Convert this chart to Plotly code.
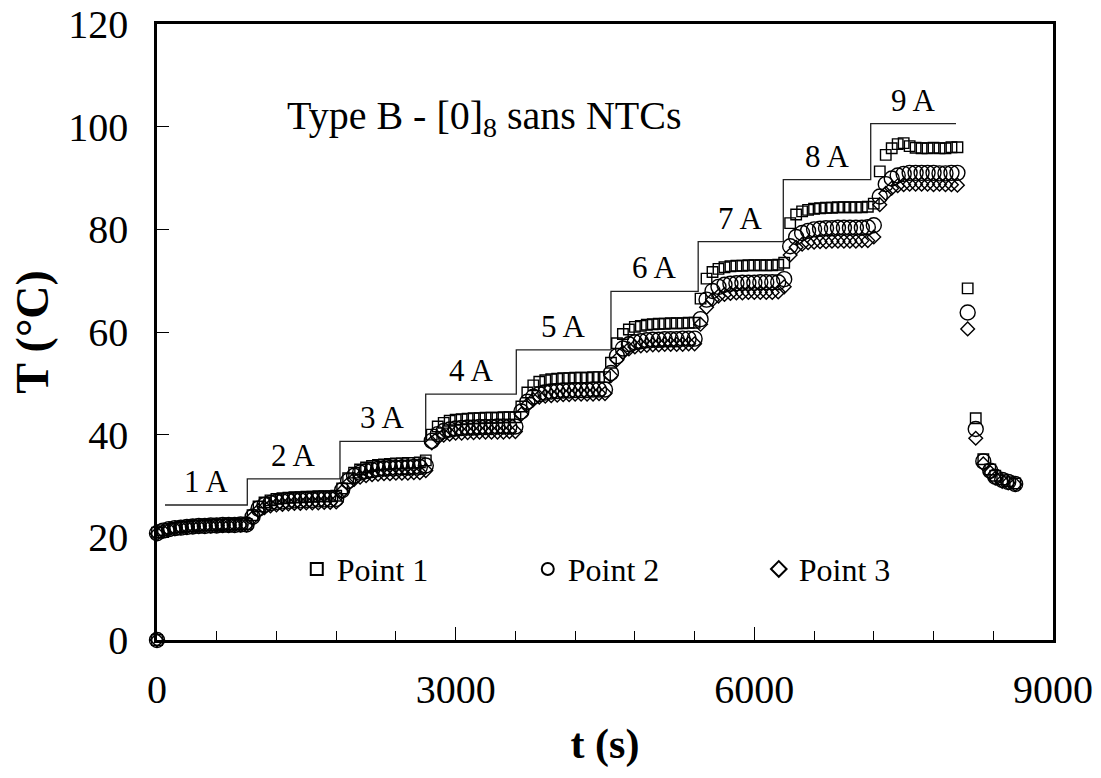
import plotly.graph_objects as go

# ---------------- data ----------------
t_s = [0, 0, 60, 120, 180, 240, 300, 360, 420, 480, 540, 600, 660, 720, 780, 840, 900,
       960, 1020, 1080, 1140, 1200, 1260, 1320, 1380, 1440, 1500, 1560, 1620, 1680, 1740, 1800,
       1860, 1920, 1980, 2040, 2100, 2160, 2220, 2280, 2340, 2400, 2460, 2520, 2580, 2640, 2700,
       2760, 2820, 2880, 2940, 3000, 3060, 3120, 3180, 3240, 3300, 3360, 3420, 3480, 3540, 3600,
       3660, 3720, 3780, 3840, 3900, 3960, 4020, 4080, 4140, 4200, 4260, 4320, 4380, 4440, 4500,
       4560, 4620, 4680, 4740, 4800, 4860, 4920, 4980, 5040, 5100, 5160, 5220, 5280, 5340, 5400,
       5460, 5520, 5580, 5640, 5700, 5760, 5820, 5880, 5940, 6000, 6060, 6120, 6180, 6240, 6300,
       6360, 6420, 6480, 6540, 6600, 6660, 6720, 6780, 6840, 6900, 6960, 7020, 7080, 7140, 7200,
       7260, 7320, 7380, 7440, 7500, 7560, 7620, 7680, 7740, 7800, 7860, 7920, 7980, 8040,
       8143, 8224, 8300, 8370, 8420, 8490, 8550, 8620]

point1 = [0, 20.9, 21.4, 21.7, 21.9, 22.0, 22.1, 22.2, 22.3, 22.3, 22.4, 22.4, 22.5, 22.5, 22.5, 22.6, 22.6,
          24.3, 26.0, 26.8, 27.2, 27.5, 27.6, 27.7, 27.8, 27.8, 27.9, 27.9, 28.0, 28.0, 28.0, 28.1,
          29.5, 31.5, 32.6, 33.2, 33.6, 33.9, 34.1, 34.2, 34.3, 34.4, 34.4, 34.5, 34.5, 34.6, 35.0,
          40.0, 41.6, 42.3, 42.7, 42.9, 43.0, 43.1, 43.2, 43.2, 43.3, 43.3, 43.3, 43.4, 43.4, 43.4,
          45.5, 48.2, 49.6, 50.3, 50.6, 50.8, 50.9, 51.0, 51.0, 51.1, 51.1, 51.1, 51.2, 51.2, 51.2,
          54.0, 57.8, 59.6, 60.5, 61.0, 61.2, 61.4, 61.5, 61.6, 61.6, 61.7, 61.7, 61.7, 61.8, 61.8,
          66.5, 70.4, 71.7, 72.3, 72.6, 72.8, 72.9, 72.9, 73.0, 73.0, 73.0, 73.0, 73.0, 73.1, 73.5,
          81.2, 82.9, 83.5, 83.8, 84.0, 84.1, 84.2, 84.2, 84.3, 84.3, 84.3, 84.3, 84.3, 84.4, 85.0,
          91.3, 94.5, 95.8, 96.6, 96.8, 96.2, 95.9, 95.8, 95.8, 95.9, 95.8, 95.8, 96.0, 96.0,
          68.5, 43.2, 35.2, 33.2, 32.0, 31.3, 30.9, 30.5]

point2 = [0, 20.8, 21.3, 21.6, 21.8, 21.9, 22.0, 22.1, 22.2, 22.2, 22.3, 22.3, 22.4, 22.4, 22.4, 22.5, 22.5,
          24.0, 25.6, 26.3, 26.7, 26.9, 27.0, 27.1, 27.2, 27.2, 27.3, 27.3, 27.4, 27.4, 27.4, 27.5,
          29.2, 31.0, 32.0, 32.6, 32.9, 33.1, 33.3, 33.4, 33.5, 33.5, 33.6, 33.6, 33.7, 33.7, 34.0,
          38.8, 40.1, 40.7, 41.0, 41.2, 41.3, 41.4, 41.4, 41.5, 41.5, 41.5, 41.6, 41.6, 41.6, 41.6,
          44.5, 46.4, 47.4, 47.9, 48.2, 48.4, 48.5, 48.6, 48.6, 48.7, 48.7, 48.7, 48.8, 48.8, 48.8,
          52.0, 55.3, 56.8, 57.6, 58.0, 58.2, 58.4, 58.5, 58.5, 58.6, 58.6, 58.6, 58.7, 58.7, 58.7,
          62.5, 66.3, 68.0, 68.8, 69.2, 69.4, 69.5, 69.6, 69.6, 69.6, 69.7, 69.7, 69.7, 69.7, 70.3,
          76.7, 78.5, 79.3, 79.7, 80.0, 80.1, 80.2, 80.2, 80.3, 80.3, 80.3, 80.3, 80.3, 80.4, 80.8,
          86.4, 88.8, 89.9, 90.5, 90.8, 91.0, 91.0, 91.0, 91.0, 91.0, 90.9, 90.9, 91.0, 91.0,
          63.8, 41.1, 34.8, 33.0, 31.8, 31.2, 30.8, 30.4]

point3 = [0, 20.7, 21.2, 21.5, 21.7, 21.9, 22.0, 22.1, 22.1, 22.2, 22.2, 22.3, 22.3, 22.3, 22.4, 22.4, 22.4,
          23.8, 25.2, 25.8, 26.1, 26.3, 26.4, 26.5, 26.6, 26.6, 26.7, 26.7, 26.7, 26.8, 26.8, 26.9,
          28.9, 30.4, 31.3, 31.7, 32.0, 32.2, 32.3, 32.4, 32.4, 32.5, 32.5, 32.5, 32.6, 32.6, 33.0,
          38.4, 39.4, 39.9, 40.1, 40.3, 40.3, 40.4, 40.4, 40.5, 40.5, 40.5, 40.5, 40.5, 40.6, 40.6,
          44.0, 45.8, 46.8, 47.3, 47.5, 47.6, 47.7, 47.8, 47.8, 47.9, 47.9, 47.9, 47.9, 48.0, 48.0,
          51.5, 54.6, 56.0, 56.7, 57.1, 57.3, 57.4, 57.5, 57.5, 57.6, 57.6, 57.6, 57.6, 57.7, 57.7,
          61.5, 64.8, 66.3, 67.0, 67.3, 67.5, 67.6, 67.6, 67.7, 67.7, 67.7, 67.7, 67.7, 67.8, 68.8,
          75.0, 76.5, 77.1, 77.4, 77.5, 77.6, 77.6, 77.7, 77.7, 77.7, 77.7, 77.7, 77.8, 77.8, 78.5,
          84.8, 87.0, 88.0, 88.5, 88.7, 88.8, 88.8, 88.8, 88.8, 88.7, 88.8, 88.7, 88.7, 88.6,
          60.6, 39.3, 34.3, 32.6, 31.5, 30.9, 30.6, 30.3]

assert len(t_s) == len(point1) == len(point2) == len(point3), (len(t_s), len(point1), len(point2), len(point3))

# current steps (level line drawn over the data)
step_labels = ["1 A", "2 A", "3 A", "4 A", "5 A", "6 A", "7 A", "8 A", "9 A"]
step_edges_t = [80, 907, 1838, 2699, 3609, 4560, 5436, 6291, 7169, 8026]
step_level_T = [26.3, 31.4, 38.7, 47.9, 56.5, 67.9, 77.6, 89.7, 100.6]

series_names = ["Point 1", "Point 2", "Point 3"]
title_text = "Type B - [0]<sub>8</sub> sans NTCs"

# ---------------- figure ----------------
FONT = "Liberation Serif, Times New Roman, serif"
fig = go.Figure()

fig.add_trace(go.Scatter(
    x=step_edges_t, y=step_level_T + [step_level_T[-1]],
    mode="lines", line=dict(color="#222222", width=1.3, shape="hv"),
    showlegend=False, hoverinfo="skip"))

styles = [("square-open", 10.5), ("circle-open", 15), ("diamond-open", 10.5)]
for name, ys, (sym, size) in zip(series_names, [point1, point2, point3], styles):
    fig.add_trace(go.Scatter(
        x=t_s, y=ys, mode="markers", name=name, cliponaxis=False,
        marker=dict(symbol=sym, size=size, color="black", line=dict(color="black", width=1.4))))

annotations = []
for i, lab in enumerate(step_labels):
    xm = (step_edges_t[i] + step_edges_t[i + 1]) / 2
    annotations.append(dict(x=xm, y=step_level_T[i], text=lab, showarrow=False,
                            xanchor="center", yanchor="bottom", yshift=4,
                            font=dict(family=FONT, size=31, color="black")))
annotations.append(dict(x=1286, y=101.6, text=title_text, showarrow=False,
                        xanchor="left", yanchor="middle",
                        font=dict(family=FONT, size=40, color="black")))

axis_common = dict(showline=True, linewidth=2.5, linecolor="black", mirror=True,
                   showgrid=False, zeroline=False, ticks="inside", tickcolor="black",
                   tickwidth=1, ticklabeloverflow="allow", automargin=False,
                   tickfont=dict(family=FONT, size=40, color="black"))

fig.update_layout(
    width=1101, height=778,
    margin=dict(l=157, r=48, t=24, b=138, autoexpand=False),
    paper_bgcolor="white", plot_bgcolor="white",
    xaxis=dict(range=[0, 9000], dtick=3000, tick0=0, ticklen=13, ticklabelstandoff=12,
               minor=dict(dtick=600, ticks="inside", ticklen=9, tickcolor="black", tickwidth=1),
               title=dict(text="<b>t (s)</b>", font=dict(family=FONT, size=42, color="black"), standoff=18),
               **axis_common),
    yaxis=dict(range=[0, 120], dtick=20, tick0=0, ticklen=12, ticklabelstandoff=18,
               title=dict(text="<b>T (°C)</b>", font=dict(family=FONT, size=46, color="black"), standoff=6),
               **axis_common),
    legend=dict(orientation="h", x=0.156, y=0.115, xanchor="left", yanchor="middle",
                bgcolor="rgba(0,0,0,0)", font=dict(family=FONT, size=32, color="black"),
                itemsizing="constant", entrywidth=186, entrywidthmode="pixels",
                traceorder="normal"),
    annotations=annotations,
    showlegend=True,
)

# remove the page body's default 8px margin so the figure fills the window exactly
fig.write_html("out.html",
               config={"displayModeBar": False},
               post_script="document.body.style.margin='0';document.body.style.overflow='hidden';")
